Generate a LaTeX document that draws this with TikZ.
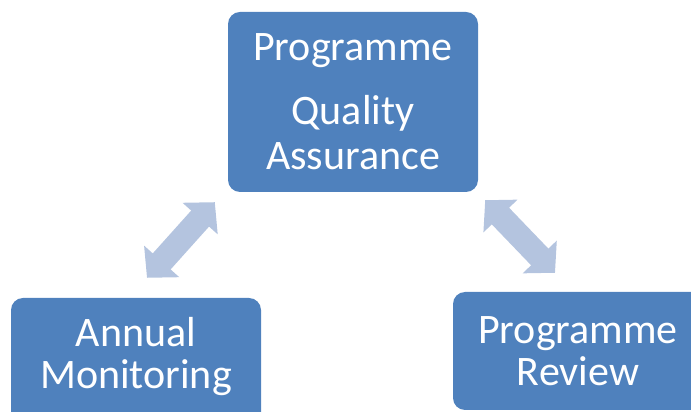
\documentclass[tikz,border=0pt]{standalone}
\usepackage{fontspec}
\setmainfont{Carlito}
\usetikzlibrary{arrows.meta,calc}
\definecolor{boxblue}{HTML}{4F81BD}
\definecolor{arrowblue}{HTML}{B4C4DF}
\tikzset{
  stagebox/.style={fill=boxblue, rounded corners=12pt, minimum width=250pt,
    minimum height=118pt, inner sep=0pt, text=white, align=center,
    font=\fontsize{42}{42}\selectfont},
  stagetext/.style={text=white, align=center, font=\fontsize{42}{42}\selectfont},
  twoway/.style={draw=arrowblue, fill=arrowblue, line width=24pt,
    {Triangle[length=22pt,width=46pt]}-{Triangle[length=22pt,width=46pt]}}
}
\begin{document}
\begin{tikzpicture}[x=1pt,y=1pt]
  \path[use as bounding box, clip] (0,0) rectangle (691,412);
  % the three stages
  \node[stagebox, minimum height=180pt, font=\fontsize{42}{45}\selectfont]
    (qa) at (353,310) {Programme\\[19pt]Quality\\Assurance};
  \node[stagebox, minimum height=140pt,
    label={[stagetext, yshift=11pt]center:{Annual\\Monitoring}}]
    (am) at (136,44) {};
  \node[stagebox] (pr) at (578,61) {Programme\\Review};
  % links
  \draw[twoway] ($(qa.south west)+(-13,-10)$) -- ($(am.north)+(11,20)$);
  \draw[twoway] ($(qa.south east)+(7,-8)$) -- ($(pr.north)+(-23,19)$);
\end{tikzpicture}
\end{document}
